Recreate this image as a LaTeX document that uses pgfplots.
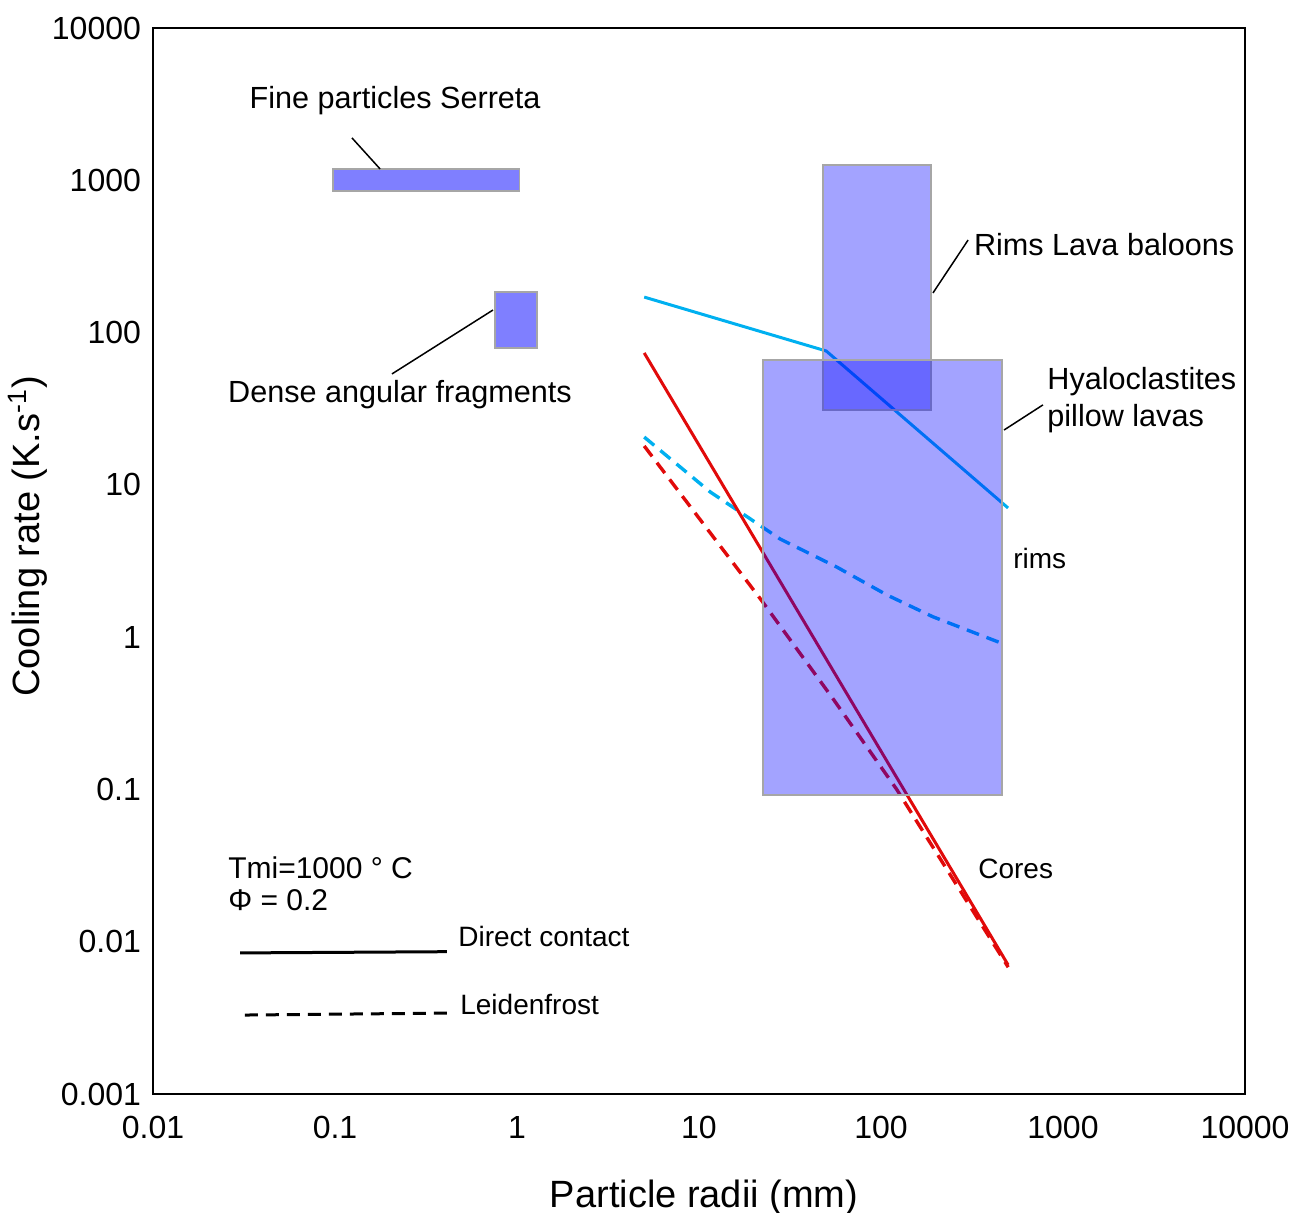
\documentclass[border=0pt]{standalone}
\usepackage{fontspec}
\setmainfont{Liberation Sans}
\usepackage{pgfplots}
\pgfplotsset{compat=1.18}

\definecolor{rimcyan}{RGB}{0,176,240}
\definecolor{corered}{RGB}{225,10,10}
\definecolor{boxblue}{RGB}{0,0,255}

\begin{document}
\begin{tikzpicture}
\useasboundingbox (-76.5pt,-59.5pt) rectangle (576pt,547pt);
\begin{axis}[
  at={(0,0)}, anchor=south west,
  scale only axis, width=546pt, height=533pt,
  xmode=log, ymode=log,
  xmin=0.01, xmax=10000, ymin=0.001, ymax=10000,
  xtick={0.01,0.1,1,10,100,1000,10000},
  xticklabels={0.01,0.1,1,10,100,1000,10000},
  ytick={0.001,0.01,0.1,1,10,100,1000,10000},
  yticklabels={0.001,0.01,0.1,1,10,100,1000,10000},
  major tick style={draw=none}, minor tick style={draw=none},
  axis line style={line width=0.75pt},
  tick label style={font=\fontsize{16}{18}\selectfont},
  xticklabel style={yshift=-7.5pt},
  yticklabel style={xshift=-2.5pt},
  xlabel={Particle radii (mm)},
  ylabel={Cooling rate (K.s\textsuperscript{-1})},
  label style={font=\fontsize{19}{22}\selectfont},
  xlabel style={at={(axis description cs:0.5046,-0.0975)}, anchor=center},
  ylabel style={at={(axis description cs:-0.1145,0.523)}, anchor=center},
  clip=false,
]
% model curves (drawn below the shaded boxes)
\addplot[rimcyan, line width=1.5pt] coordinates {(5,171) (50,75.7) (499,7.05)};
\addplot[rimcyan, line width=1.7pt, dash pattern=on 6.5pt off 4pt]
  coordinates {(5,20.6) (11.5,9.0) (28,4.4) (57,2.89) (108,1.89) (193,1.36) (451,0.92)};
\addplot[corered, line width=1.5pt] coordinates {(5,73.5) (499,0.00705)};
\addplot[corered, line width=1.7pt, dash pattern=on 6.5pt off 4pt]
  coordinates {(5,18) (22,1.75) (54,0.4) (122,0.1) (500,0.0068)};

% observed ranges
\addplot[draw=gray!70, line width=0.75pt, fill=boxblue, fill opacity=0.5]
  coordinates {(0.0975,851) (1.03,851) (1.03,1186) (0.0975,1186)} -- cycle;
\addplot[draw=gray!70, line width=0.75pt, fill=boxblue, fill opacity=0.5]
  coordinates {(0.757,79) (1.29,79) (1.29,185) (0.757,185)} -- cycle;
\addplot[draw=gray!70, line width=0.75pt, fill=boxblue, fill opacity=0.36]
  coordinates {(48,31) (188,31) (188,1259) (48,1259)} -- cycle;
\addplot[draw=gray!70, line width=0.75pt, fill=boxblue, fill opacity=0.36]
  coordinates {(22.5,0.092) (462,0.092) (462,66) (22.5,66)} -- cycle;

% annotations
\draw[line width=0.75pt] (axis cs:0.124,1897) -- (axis cs:0.177,1186);
\node[yshift=-2pt, font=\fontsize{15.3}{18}\selectfont] at (axis cs:0.214,3525) {Fine particles Serreta};
\draw[line width=0.75pt] (axis cs:0.2056,53.5) -- (axis cs:0.738,140.6);
\node[yshift=-1.5pt, font=\fontsize{15.3}{18}\selectfont] at (axis cs:0.2276,40.7) {Dense angular fragments};
\draw[line width=0.75pt] (axis cs:193,182) -- (axis cs:301,405);
\node[anchor=west, xshift=-3pt, font=\fontsize{15.3}{18}\selectfont] at (axis cs:320,376) {Rims Lava baloons};
\draw[line width=0.75pt] (axis cs:474,22.9) -- (axis cs:776,33.5);
\node[anchor=west, align=left, inner xsep=0pt, yshift=-1.5pt, font=\fontsize{15.3}{18.5}\selectfont] at (axis cs:817,37.8) {Hyaloclastites\\pillow lavas};
\node[anchor=west, inner xsep=0pt, font=\fontsize{14}{17}\selectfont] at (axis cs:531,3.26) {rims};
\node[anchor=west, inner xsep=0pt, font=\fontsize{14}{17}\selectfont] at (axis cs:341,0.030) {Cores};

% parameters and line key
\node[anchor=west, align=left, inner xsep=0pt, font=\fontsize{15}{16}\selectfont] at (axis cs:0.0258,0.024) {Tmi=1000 ° C\\Φ = 0.2};
\draw[line width=1.5pt] (axis cs:0.0301,0.00844) -- (axis cs:0.412,0.0086);
\node[anchor=west, inner xsep=0pt, font=\fontsize{14}{17}\selectfont] at (axis cs:0.474,0.01076) {Direct contact};
\draw[line width=1.5pt, dash pattern=on 6.5pt off 4pt] (axis cs:0.032,0.0033) -- (axis cs:0.43,0.0034);
\node[anchor=west, inner xsep=0pt, font=\fontsize{14}{17}\selectfont] at (axis cs:0.486,0.00385) {Leidenfrost};
\end{axis}
\end{tikzpicture}
\end{document}
